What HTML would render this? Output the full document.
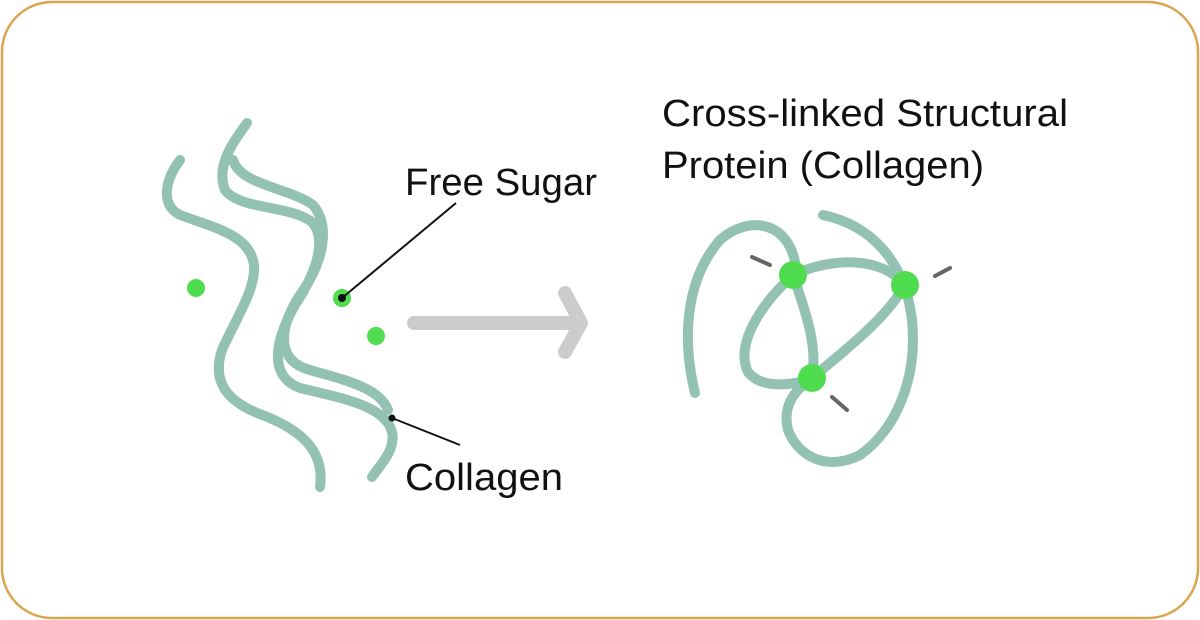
<!DOCTYPE html>
<html><head><style>
body{margin:0;width:1200px;height:620px;background:#fff;overflow:hidden}
svg{position:absolute;left:0;top:0}
text{font-family:"Liberation Sans",sans-serif;font-size:38px;fill:#111}
</style></head><body>
<svg width="1200" height="620" viewBox="0 0 1200 620">
<rect x="2" y="2" width="1196" height="616" rx="50" ry="50" fill="#fff" stroke="#d9a650" stroke-width="2.5"/>
<g fill="none" stroke="#93c2b4" stroke-width="10" stroke-linecap="round" stroke-linejoin="round">
<path d="M180 160 C165 180 160 205 180 215 C215 228 250 235 254 265 C256 290 235 320 222 350 C212 380 225 402 265 416 C300 430 325 450 320 487"/>
<path d="M247 123 C235 140 215 165 225 190 C240 210 290 205 312 222 C328 240 315 275 295 305 C278 335 265 375 300 388 C340 398 385 405 392 432 C396 450 380 465 372 477"/>
<path d="M233 160 C240 185 290 188 313 205 C330 225 325 260 300 295 C282 322 272 360 310 370 C345 380 380 388 388 410"/>
<path d="M695 393 C682 340 685 280 720 240 C748 215 790 220 796 268"/>
<path d="M793 275 C830 258 880 255 905 285"/>
<path d="M823 215 C870 225 905 260 912 320 C918 380 895 430 860 455 C830 470 800 460 788 430 C782 405 795 390 812 378"/>
<path d="M793 275 C760 305 735 345 748 372 C762 390 795 385 812 378"/>
<path d="M793 275 C805 310 818 345 812 378"/>
<path d="M812 378 C845 350 885 320 905 285"/>
</g>
<g fill="#4fdd4f">
<circle cx="196" cy="288" r="9"/><circle cx="342" cy="298" r="9"/><circle cx="376" cy="336" r="9"/>
<circle cx="793" cy="275" r="14"/><circle cx="905" cy="285" r="14"/><circle cx="812" cy="378" r="14"/>
</g>
<g stroke="#666" stroke-width="4" stroke-linecap="round">
<line x1="752" y1="257" x2="770" y2="265"/><line x1="950" y1="268" x2="935" y2="276"/><line x1="847" y1="410" x2="832" y2="397"/>
</g>
<g stroke="#ccc" stroke-width="14" fill="none" stroke-linecap="round">
<line x1="414" y1="323" x2="578" y2="323"/>
<path d="M565 293 L581 323 L565 352" stroke-linejoin="round"/>
</g>
<g stroke="#111" stroke-width="2">
<line x1="342" y1="298" x2="456" y2="203"/><line x1="392" y1="418" x2="460" y2="445"/>
</g>
<circle cx="342" cy="298" r="4" fill="#111"/><circle cx="392" cy="418" r="3.5" fill="#111"/>
<text x="405" y="195" textLength="192" lengthAdjust="spacingAndGlyphs">Free Sugar</text>
<text x="405" y="490" textLength="158" lengthAdjust="spacingAndGlyphs">Collagen</text>
<text x="662" y="126" textLength="406" lengthAdjust="spacingAndGlyphs">Cross-linked Structural</text>
<text x="662" y="178" textLength="322" lengthAdjust="spacingAndGlyphs">Protein (Collagen)</text>
</svg>
</body></html>
